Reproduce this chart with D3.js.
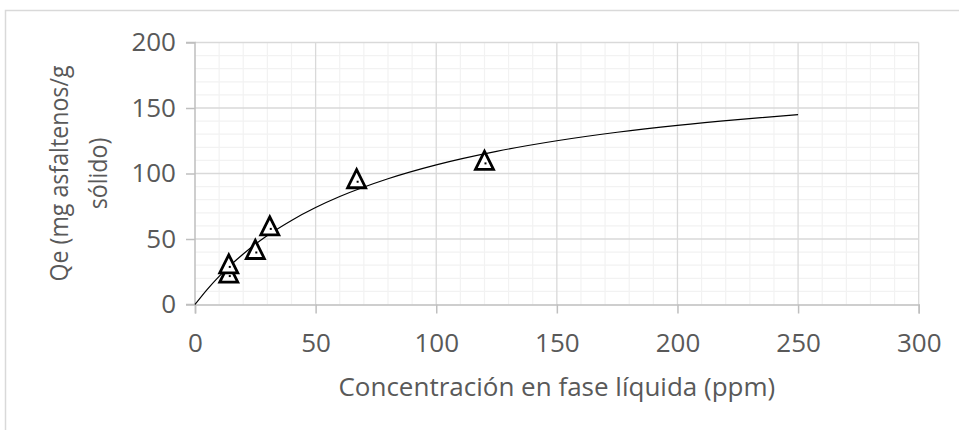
<!DOCTYPE html>
<html>
<head>
<meta charset="utf-8">
<script src="https://cdn.jsdelivr.net/npm/d3@7"></script>
<style>
  html, body { margin: 0; padding: 0; background: #fff; }
  svg { display: block; }
  text { font-family: "Open Sans", "Noto Sans", sans-serif; fill: #595959; }
</style>
</head>
<body>
<svg id="chart" width="959" height="430"></svg>
<script>
// Measured adsorption points: liquid-phase concentration (ppm) vs Qe (mg/g)
const concentration = [14, 14, 25, 31, 67, 120];
const qe = [24, 31, 42, 60, 96, 110];

// Fitted isotherm curve, sampled along its length
const curveC = [0, 5, 10, 15, 20, 30, 40, 50, 60, 80, 100, 125, 150, 175, 200, 225, 250];
const curveQ = [0, 11.4, 21.5, 30.5, 38.6, 52.6, 64.2, 74.0, 82.4, 96.0, 106.6, 116.9, 125.0, 131.5, 136.8, 141.2, 145.0];

const xTicks = [0, 50, 100, 150, 200, 250, 300];
const yTicks = [0, 50, 100, 150, 200];
const xTitle = "Concentración en fase líquida (ppm)";
const yTitleLines = ["Qe (mg asfaltenos/g", "sólido)"];

const svg = d3.select("#chart");
const plot = { left: 195, right: 918.7, top: 42.5, bottom: 304.5 };
const fontSize = "26px";

const x = d3.scaleLinear().domain([0, 300]).range([plot.left, plot.right]);
const y = d3.scaleLinear().domain([0, 200]).range([plot.bottom, plot.top]);

// Outer chart frame
svg.append("rect")
  .attr("x", 5.5).attr("y", 10.5)
  .attr("width", 970).attr("height", 440)
  .attr("fill", "#fff").attr("stroke", "#d9d9d9").attr("stroke-width", 1.5);

// Minor gridlines
const minorX = d3.range(0, 301, 10).filter(v => v % 50 !== 0);
const minorY = d3.range(0, 201, 10).filter(v => v % 50 !== 0);
const grid = svg.append("g");
grid.selectAll(".mx").data(minorX).join("line")
  .attr("x1", d => x(d)).attr("x2", d => x(d))
  .attr("y1", plot.top).attr("y2", plot.bottom)
  .attr("stroke", "#f2f2f2").attr("stroke-width", 1.2);
grid.selectAll(".my").data(minorY).join("line")
  .attr("x1", plot.left).attr("x2", plot.right)
  .attr("y1", d => y(d)).attr("y2", d => y(d))
  .attr("stroke", "#f2f2f2").attr("stroke-width", 1.2);

// Major gridlines
grid.selectAll(".Mx").data(xTicks.slice(1)).join("line")
  .attr("x1", d => x(d)).attr("x2", d => x(d))
  .attr("y1", plot.top).attr("y2", plot.bottom)
  .attr("stroke", "#d9d9d9").attr("stroke-width", 1.3);
grid.selectAll(".My").data(yTicks.slice(1)).join("line")
  .attr("x1", plot.left).attr("x2", plot.right)
  .attr("y1", d => y(d)).attr("y2", d => y(d))
  .attr("stroke", "#d9d9d9").attr("stroke-width", 1.3);

// Axes
const xAxis = svg.append("g")
  .attr("transform", `translate(0,${plot.bottom})`)
  .call(d3.axisBottom(x).tickValues(xTicks).tickSize(9).tickPadding(20));
const yAxis = svg.append("g")
  .attr("transform", `translate(${plot.left},0)`)
  .call(d3.axisLeft(y).tickValues(yTicks).tickSize(9).tickPadding(10));

[xAxis, yAxis].forEach(g => {
  g.select(".domain").attr("stroke", "#bfbfbf").attr("stroke-width", 1.5);
  g.selectAll(".tick line").attr("stroke", "#bfbfbf").attr("stroke-width", 1.5);
  g.selectAll(".tick text")
    .attr("fill", "#595959")
    .style("font-family", "\"Open Sans\", sans-serif")
    .style("font-size", fontSize);
});
yAxis.select(".domain").attr("d", `M-9,${y(200)}H0V${y(0)}H-9`);

// Fitted curve
const line = d3.line()
  .x((d, i) => x(curveC[i]))
  .y(d => y(d))
  .curve(d3.curveMonotoneX);
svg.append("path")
  .datum(curveQ)
  .attr("d", line)
  .attr("fill", "none")
  .attr("stroke", "#000")
  .attr("stroke-width", 1.2);

// Triangle markers
const points = concentration.map((c, i) => ({ c, q: qe[i] }));
const mk = svg.append("g");
mk.selectAll("path").data(points).join("path")
  .attr("transform", d => `translate(${x(d.c)},${y(d.q)})`)
  .attr("d", "M0,-9L9,9L-9,9Z")
  .attr("fill", "#fff")
  .attr("stroke", "#000")
  .attr("stroke-width", 2.8)
  .attr("stroke-linejoin", "miter");
mk.selectAll("rect").data(points).join("rect")
  .attr("x", d => x(d.c))
  .attr("y", d => y(d.q) + 2)
  .attr("width", 2).attr("height", 2)
  .attr("fill", "#000");

// Axis titles
svg.append("text")
  .attr("x", (plot.left + plot.right) / 2)
  .attr("y", 396)
  .attr("text-anchor", "middle")
  .style("font-size", fontSize)
  .text(xTitle);

const cy = (plot.top + plot.bottom) / 2;
const yt = svg.append("text")
  .attr("text-anchor", "middle")
  .style("font-size", fontSize);
yTitleLines.forEach((t, i) => {
  yt.append("tspan")
    .attr("x", 0)
    .attr("y", i === 0 ? -12 : 27)
    .text(t);
});
// narrow the rotated title so its first line spans the plot height
const firstLen = yt.select("tspan").node().getComputedTextLength();
const k = Math.min(1, 216 / firstLen);
yt.attr("transform", `translate(80,${cy}) rotate(-90) scale(${k},1)`);
</script>
</body>
</html>
